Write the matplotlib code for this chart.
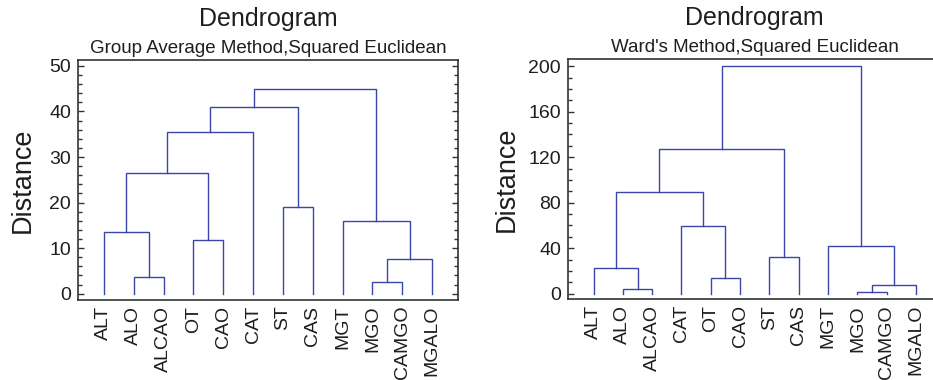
import matplotlib
matplotlib.use("Agg")
import matplotlib.pyplot as plt
from matplotlib.ticker import MultipleLocator

plt.rcParams['font.family'] = ['Liberation Sans', 'DejaVu Sans']

# leaf order as shown on each panel
leaves_avg = ["ALT", "ALO", "ALCAO", "OT", "CAO", "CAT", "ST", "CAS",
              "MGT", "MGO", "CAMGO", "MGALO"]
leaves_ward = ["ALT", "ALO", "ALCAO", "CAT", "OT", "CAO", "ST", "CAS",
               "MGT", "MGO", "CAMGO", "MGALO"]

# merges: (child a, child b, distance); ids >= 12 are earlier merges
merges_avg = [(9, 10, 2.6), (1, 2, 3.6), (12, 11, 7.55), (3, 4, 11.7),
              (0, 13, 13.5), (8, 14, 15.9), (6, 7, 19.0), (16, 15, 26.5),
              (19, 5, 35.6), (20, 18, 40.9), (21, 17, 45.0)]
merges_ward = [(9, 10, 1.5), (1, 2, 3.9), (12, 11, 7.9), (4, 5, 13.5),
               (0, 13, 22.3), (6, 7, 32.0), (8, 14, 41.7), (3, 15, 59.3),
               (16, 19, 89.2), (20, 17, 127.3), (21, 18, 200.0)]

LINE = '#3a46a6'
TXT = '#1e1e1e'


def draw_dendro(ax, leaves, merges):
    n = len(leaves)
    xs = list(range(n))
    hs = [0.0] * n
    for a, b, h in merges:
        ax.plot([xs[a], xs[a], xs[b], xs[b]], [hs[a], h, h, hs[b]],
                color=LINE, lw=1.0, solid_joinstyle='miter')
        xs.append((xs[a] + xs[b]) / 2)
        hs.append(h)
    ax.set_xticks(range(n))
    ax.set_xticklabels(leaves, rotation=90, fontsize=14, color=TXT)


fig = plt.figure(figsize=(9.33, 3.8), dpi=100)
ax1 = fig.add_axes([0.0836, 0.2105, 0.4073, 0.6316])
ax2 = fig.add_axes([0.6088, 0.2123, 0.4004, 0.6316])

panels = [
    (ax1, leaves_avg, merges_avg, "Group Average Method,Squared Euclidean",
     (-1.4, 51.3), 10, 2, 10),
    (ax2, leaves_ward, merges_ward, "Ward's Method,Squared Euclidean",
     (-4.9, 206), 40, 10, 6.5),
]

for ax, leaves, merges, sub, ylim, major, minor, lpad in panels:
    draw_dendro(ax, leaves, merges)
    ax.set_xlim(-0.87, 11.87)
    ax.set_ylim(*ylim)
    ax.yaxis.set_major_locator(MultipleLocator(major))
    ax.yaxis.set_minor_locator(MultipleLocator(minor))
    ax.tick_params(axis='y', which='both', direction='in', left=True,
                   right=True, labelsize=14, labelcolor=TXT, color='#333333',
                   pad=5)
    ax.tick_params(axis='y', which='major', length=4.5, width=1)
    ax.tick_params(axis='y', which='minor', length=3, width=1)
    ax.tick_params(axis='x', length=0, pad=4)
    for s in ax.spines.values():
        s.set_color('#333333')
        s.set_linewidth(1.2)
    ax.set_ylabel("Distance", fontsize=19.5, color=TXT, labelpad=lpad)
    ax.text(0.5, 1.142, "Dendrogram", transform=ax.transAxes, ha='center',
            va='baseline', fontsize=18, color=TXT)
    ax.text(0.5, 1.029, sub, transform=ax.transAxes, ha='center',
            va='baseline', fontsize=13.5, color=TXT)

fig.savefig("out.png", dpi=100)
